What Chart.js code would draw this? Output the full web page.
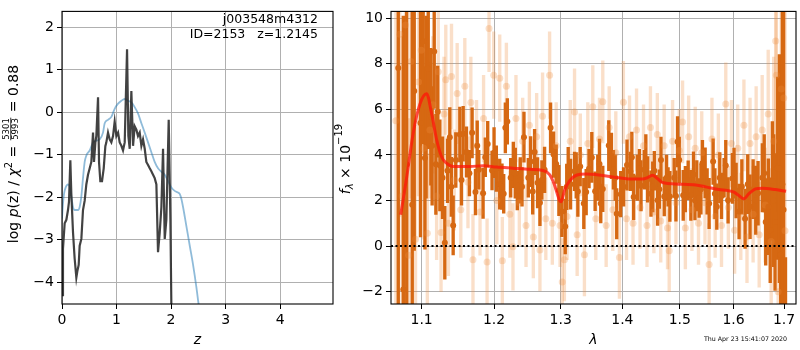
<!DOCTYPE html>
<html><head><meta charset="utf-8">
<script src="https://cdn.jsdelivr.net/npm/chart.js@4.4.1/dist/chart.umd.min.js"></script>
<style>
html,body{margin:0;padding:0;background:#fff;}
#wrap{position:relative;width:800px;height:350px;overflow:hidden;background:#fff;}
canvas{position:absolute;top:0;}
#c1{left:0;}
#c2{left:330px;}
</style></head><body>
<div id="wrap"><canvas id="c1" width="345" height="350"></canvas><canvas id="c2" width="470" height="350"></canvas></div>
<script>
// ---------- Left panel: p(z) ----------
const leftXTicks = [0, 1, 2, 3, 4];
const leftYTicks = [-4, -3, -2, -1, 0, 1, 2];
const pzZ = [0,0.018,0.049,0.080,0.110,0.128,0.153,0.171,0.202,0.232,
  0.263,0.281,0.306,0.324,0.355,0.385,0.416,0.446,0.477,0.508,
  0.538,0.569,0.587,0.612,0.630,0.661,0.679,0.703,0.734,0.765,
  0.795,0.813,0.844,0.875,0.905,0.936,0.966,0.997,1.028,1.058,
  1.089,1.119,1.150,1.168,1.193,1.217,1.242,1.272,1.303,1.333,
  1.364,1.394,1.425,1.456,1.486,1.517,1.547,1.578,1.609,1.639,
  1.670,1.700,1.731,1.761,1.792,1.823,1.853,1.884,1.914,1.957,
  1.988,2.006,2.030];
const pzLog = [-4.3,-3.21,-2.61,-2.53,-2.30,-2.11,-1.13,-1.92,-2.83,-3.44,
  -3.89,-3.74,-3.59,-3.14,-2.98,-2.30,-2.08,-1.70,-1.47,-1.32,
  -1.17,-0.48,-1.17,-0.71,-0.56,0.35,-1.17,-1.62,-1.62,-1.32,
  -0.80,-0.71,-0.48,-0.64,-0.71,-0.56,-0.22,-0.56,-0.48,-0.71,
  -0.79,-0.90,-0.71,0.20,1.48,-0.56,-0.86,0.50,-0.79,-0.33,
  -0.41,-0.56,-0.48,-0.79,-0.64,-0.86,-1.17,-1.24,-1.32,-1.39,
  -1.47,-1.55,-1.70,-3.29,-2.83,-2.23,-0.86,-2.98,-2.53,-0.18,
  -2.53,-4.58,-9];
const chiZ = [0,0.018,0.037,0.067,0.110,0.141,0.171,0.202,0.232,0.294,
  0.324,0.355,0.385,0.416,0.446,0.508,0.569,0.630,0.691,0.752,
  0.783,0.844,0.905,0.966,1.028,1.089,1.150,1.211,1.272,1.333,
  1.394,1.456,1.517,1.578,1.639,1.700,1.761,1.823,1.884,1.945,
  2.006,2.067,2.128,2.159,2.190,2.220,2.281,2.343,2.404,2.465,
  2.495,2.560];
const chiLog = [-2.5,-2.15,-1.92,-1.77,-1.70,-1.75,-1.98,-2.23,-2.30,-2.30,
  -2.23,-1.98,-1.55,-1.17,-1.02,-0.90,-0.71,-0.67,-0.64,-0.48,
  -0.26,-0.18,-0.11,0.08,0.20,0.27,0.31,0.27,0.23,0.12,
  -0.03,-0.26,-0.48,-0.71,-0.94,-1.17,-1.32,-1.40,-1.47,-1.62,
  -1.77,-1.85,-1.89,-1.92,-2.04,-2.23,-2.68,-3.14,-3.59,-4.12,
  -4.42,-5.0];
const infoLines = ['j003548m4312', 'ID=2153   z=1.2145'];

// ---------- Right panel: spectrum ----------
const rightXTicks = [1.1, 1.2, 1.3, 1.4, 1.5, 1.6, 1.7];
const rightYTicks = [-2, 0, 2, 4, 6, 8, 10];
const darkLam = [1.0696,1.0761,1.0805,1.0877,1.0903,1.0985,1.1021,1.1044,1.1060,1.1088,
  1.1123,1.1140,1.1168,1.1190,1.1215,1.1244,1.1280,1.1311,1.1348,1.1379,
  1.1400,1.1425,1.1461,1.1517,1.1540,1.1563,1.1609,1.1650,1.1688,1.1735,
  1.1760,1.1782,1.1843,1.1875,1.1909,1.1971,1.2000,1.2033,1.2082,1.2115,
  1.2140,1.2164,1.2193,1.2242,1.2281,1.2310,1.2340,1.2384,1.2410,1.2439,
  1.2504,1.2539,1.2570,1.2599,1.2644,1.2680,1.2710,1.2751,1.2843,1.2889,
  1.2930,1.2972,1.3019,1.3071,1.3095,1.3118,1.3155,1.3218,1.3245,1.3271,
  1.3308,1.3366,1.3404,1.3450,1.3495,1.3549,1.3592,1.3620,1.3641,1.3674,
  1.3773,1.3817,1.3850,1.3880,1.3905,1.3972,1.4020,1.4078,1.4135,1.4160,
  1.4191,1.4254,1.4290,1.4317,1.4374,1.4400,1.4431,1.4489,1.4520,1.4547,
  1.4605,1.4635,1.4664,1.4722,1.4763,1.4790,1.4822,1.4899,1.4930,1.4959,
  1.4989,1.5061,1.5100,1.5151,1.5200,1.5248,1.5275,1.5309,1.5352,1.5385,
  1.5413,1.5463,1.5500,1.5537,1.5612,1.5645,1.5681,1.5737,1.5770,1.5819,
  1.5851,1.5895,1.5978,1.6010,1.6049,1.6106,1.6160,1.6223,1.6275,1.6320,
  1.6380,1.6432,1.6478,1.6563,1.6600,1.6630,1.6683,1.6720,1.6763,1.6790,
  1.6817,1.6871,1.6905,1.6932,1.6966,1.6990,1.7030];
const darkFlux = [7.82,-1.90,3.58,1.82,6.81,5.4,8.99,3.87,6.1,7.78,
  5.68,4.4,8.54,3.59,5.9,3.54,3.0,0.15,3.31,4.78,
  2.6,0.91,3.78,4.90,2.9,4.93,4.13,3.2,4.97,2.37,
  4.4,3.35,2.32,3.9,4.48,3.32,4.1,3.40,2.72,2.61,
  2.3,5.19,5.47,3.00,3.56,3.2,2.44,2.89,2.6,4.78,
  3.00,3.71,2.4,4.13,2.78,1.90,2.9,3.35,5.19,4.02,
  3.6,2.44,1.52,0.86,2.6,3.48,2.72,3.28,3.1,2.40,
  3.49,1.87,2.37,3.4,3.89,2.41,3.00,3.6,1.87,2.51,
  4.41,3.96,3.35,3.0,1.42,2.28,2.6,3.56,3.28,3.9,
  2.16,3.00,3.4,2.65,3.35,3.8,2.93,2.30,2.6,3.31,
  2.01,2.5,3.78,2.18,3.00,2.6,2.18,3.00,2.2,4.58,
  3.78,2.23,2.5,2.89,2.23,3.14,2.0,2.65,2.11,2.5,
  3.64,3.21,2.4,1.87,3.71,2.3,1.73,3.00,2.2,3.00,
  3.54,2.01,2.97,3.2,2.44,1.52,2.6,1.20,2.72,1.73,
  2.5,2.01,2.32,3.00,3.2,1.06,1.73,0.7,2.86,2.0,
  1.06,3.42,3.4,-0.38,2.72,1.6,-4.5];
const darkErr = [12,12,10,9,7,5,4.5,4,4,3.5,
  3,2.6,2.5,2.2,2,2,1.8,1.6,1.4,1.3,
  1.3,1.3,1.2,1.2,1.1,1.2,1.1,1.0,1.1,1.0,
  1.1,0.85,1.1,0.85,1.0,0.85,1.1,1.0,1.1,1.0,
  0.85,1.1,1.0,0.85,1.0,1.1,0.85,1.0,0.85,1.1,
  0.85,1.1,1.0,1.0,1.1,1.0,0.85,1.0,1.1,1.0,
  0.85,1.1,1.1,1.2,1.0,0.85,1.1,0.85,1.0,1.1,
  0.85,1.1,1.0,0.85,1.1,0.85,1.0,1.1,0.85,1.0,
  1.1,1.0,0.85,1.0,1.1,1.0,0.85,1.1,0.85,1.1,
  1.0,1.0,0.85,1.1,0.85,1.1,1.0,1.0,1.1,0.85,
  1.1,0.85,1.0,0.85,1.0,0.85,1.1,0.85,1.1,1.1,
  1.0,1.1,1.0,0.85,1.1,1.0,0.85,1.1,0.85,1.1,
  1.0,1.1,1.0,1.1,1.0,1.1,1.0,1.1,1.0,0.85,
  1.1,1.0,1.1,1.1,1.2,1.2,1.2,1.3,1.3,1.4,
  1.3,1.5,1.4,1.5,1.7,1.9,2.1,2.3,2.6,2.9,
  3.0,4,5,7,10,12,4];
const lightLam = [1.0665,1.0715,1.0745,1.0790,1.0830,1.0860,1.0920,1.0960,1.0995,1.1030,
  1.1076,1.1110,1.1150,1.1200,1.1222,1.1260,1.1300,1.1324,1.1360,1.1402,
  1.1440,1.1480,1.1530,1.1586,1.1630,1.1670,1.1700,1.1750,1.1800,1.1850,
  1.1900,1.1928,1.1995,1.2040,1.2082,1.2120,1.2179,1.2230,1.2276,1.2320,
  1.2370,1.2420,1.2470,1.2520,1.2580,1.2630,1.2680,1.2720,1.2770,1.2828,
  1.2870,1.2930,1.2990,1.3024,1.3058,1.3100,1.3150,1.3218,1.3260,1.3310,
  1.3376,1.3430,1.3511,1.3560,1.3620,1.3674,1.3730,1.3780,1.3840,1.3890,
  1.3950,1.4017,1.4070,1.4120,1.4180,1.4240,1.4300,1.4360,1.4420,1.4480,
  1.4540,1.4600,1.4660,1.4720,1.4780,1.4810,1.4870,1.4930,1.4990,1.5049,
  1.5100,1.5160,1.5220,1.5280,1.5340,1.5400,1.5460,1.5537,1.5590,1.5650,
  1.5710,1.5770,1.5851,1.5900,1.5960,1.6020,1.6080,1.6140,1.6200,1.6260,
  1.6320,1.6380,1.6440,1.6500,1.6560,1.6620,1.6680,1.6740,1.6790,1.6830,
  1.6844,1.6880,1.6943,1.6994,1.7020];
const lightFlux = [5.5,9.3,2.2,9.7,-0.4,8.1,0.3,7.2,8.6,4.3,
  0.56,5.1,6.2,2.2,7.65,0.6,5.8,7.3,1.0,7.44,
  2.9,6.7,1.6,7.02,2.8,6.3,-0.6,4.4,1.5,5.6,
  -0.7,9.55,7.5,2.0,7.37,-0.64,7.01,1.4,-0.03,5.6,
  1.9,4.6,0.9,5.3,0.4,4.8,-0.17,5.7,1.2,7.5,
  1.0,4.4,0.9,-1.57,-0.6,1.3,4.6,5.88,0.5,4.0,
  -0.38,4.5,6.12,1.2,4.7,6.33,0.9,5.2,1.6,4.1,
  -0.5,6.31,1.2,4.8,1.0,5.1,1.7,4.4,0.9,5.2,
  1.5,4.9,1.1,4.4,0.8,-0.2,4.6,1.9,4.2,5.45,
  0.8,4.8,1.6,4.3,1.0,4.1,1.9,-0.81,4.7,1.3,
  4.0,0.9,6.24,1.7,4.5,0.7,4.3,1.3,5.3,0.4,
  4.5,1.4,4.8,0.5,5.1,1.8,5.8,0.2,4.6,9.0,
  7.5,-2.0,6.9,6.5,0.67];
const lightErr = [9,8,7,7,6,6,5,5,4.5,4,
  3.5,3,3,2.8,2.7,2.6,2.5,2.4,2.3,2.3,
  2.2,2.2,2.1,2.1,2.0,2.0,2.0,2.0,1.9,1.9,
  1.9,1.9,1.9,1.9,1.9,1.9,1.9,1.9,1.9,1.9,
  1.9,1.9,1.8,1.9,1.8,1.9,1.8,1.9,1.8,1.9,
  1.8,1.9,1.8,1.9,1.8,1.9,1.8,1.9,1.8,1.8,
  1.8,1.8,1.8,1.8,1.8,1.8,1.8,1.8,1.8,1.8,
  1.8,1.8,1.8,1.8,1.8,1.8,1.8,1.8,1.8,1.8,
  1.8,1.8,1.8,1.8,1.8,1.8,1.8,1.8,1.8,1.8,
  1.8,1.8,1.8,1.8,1.8,1.8,1.8,1.8,1.8,1.8,
  1.8,1.8,1.8,1.8,1.9,1.9,1.9,1.9,2.0,2.0,
  2.0,2.1,2.2,2.3,2.4,2.5,2.8,3.2,3.7,5,
  6,7,9,10,10];
const modelLam = [1.0727,1.0804,1.0890,1.0978,1.1066,1.1133,1.1199,1.1267,1.1334,1.1424,
  1.1655,1.1843,1.2034,1.2276,1.2524,1.2725,1.2828,1.2899,1.2982,1.3008,
  1.3060,1.3139,1.3245,1.3405,1.3674,1.3946,1.4170,1.4341,1.4427,1.4514,
  1.4601,1.4689,1.4986,1.5289,1.5473,1.5722,1.5879,1.6007,1.6103,1.6200,
  1.6297,1.6429,1.6559,1.6827,1.7042];
const modelFlux = [1.38,3.0,4.97,6.24,6.69,5.82,4.69,3.92,3.64,3.49,
  3.49,3.53,3.47,3.42,3.37,3.32,3.14,2.72,2.01,1.95,
  2.44,2.86,3.11,3.17,3.10,3.0,2.94,2.94,3.0,3.11,
  2.97,2.79,2.72,2.68,2.60,2.48,2.44,2.37,2.22,2.08,
  2.30,2.51,2.54,2.48,2.41];
const zeroLine = [0, 0];
const stamp = 'Thu Apr 23 15:41:07 2020';

// ---------- helpers ----------
Chart.defaults.font.family = "'DejaVu Sans'";
Chart.defaults.font.size = 14;
Chart.defaults.color = '#000';
const FONT = "'DejaVu Sans'";
const DARK = 'rgb(214,104,18)';
const LIGHT = 'rgba(238,140,60,0.28)';

function fixedTicks(vals){ return function(scale){ scale.ticks = vals.map(v => ({value: v})); }; }
function fmtNum(v){ return v < 0 ? '\u2212' + Math.abs(v) : String(v); }
function xy(xs, ys){ return xs.map((x, i) => ({x: x, y: ys[i]})); }

function drawRichV(ctx, xBase, cy, segs){
  let W = 0;
  segs.forEach(s => {
    ctx.font = s.font;
    s.w = s.frac ? Math.max(ctx.measureText(s.frac[0]).width, ctx.measureText(s.frac[1]).width) + 3
                 : ctx.measureText(s.t).width;
    W += s.w;
  });
  ctx.save();
  ctx.translate(xBase, cy);
  ctx.rotate(-Math.PI / 2);
  ctx.fillStyle = '#000';
  ctx.textBaseline = 'alphabetic';
  let u = -W / 2;
  segs.forEach(s => {
    ctx.font = s.font;
    if (s.frac) {
      ctx.textAlign = 'center';
      ctx.fillText(s.frac[0], u + s.w / 2, s.num);
      ctx.fillText(s.frac[1], u + s.w / 2, s.den);
      ctx.fillRect(u + 1, s.bar - 0.4, s.w - 2, 0.8);
    } else {
      ctx.textAlign = 'left';
      ctx.fillText(s.t, u, s.dy || 0);
    }
    u += s.w;
  });
  ctx.restore();
}

function frame(ctx, a){
  ctx.save();
  ctx.strokeStyle = '#000';
  ctx.lineWidth = 1.1;
  ctx.strokeRect(a.left, a.top, a.right - a.left, a.bottom - a.top);
  ctx.restore();
}

const leftDecor = {
  id: 'leftDecor',
  afterDraw(chart){
    const ctx = chart.ctx, a = chart.chartArea;
    frame(ctx, a);
    ctx.save();
    ctx.fillStyle = '#000';
    ctx.font = '12.5px ' + FONT;
    ctx.textAlign = 'right';
    ctx.textBaseline = 'middle';
    ctx.fillText(infoLines[0], 318, 20);
    ctx.fillText(infoLines[1], 318, 34.5);
    ctx.font = 'italic 14px ' + FONT;
    ctx.textAlign = 'center';
    ctx.fillText('z', (a.left + a.right) / 2, 340);
    ctx.restore();
    const N = '14px ' + FONT, I = 'italic 14px ' + FONT;
    drawRichV(ctx, 17.5, 154, [
      {t: 'log ', font: N}, {t: 'p', font: I}, {t: '(z) / ', font: N}, {t: '\u03c7', font: I},
      {t: '2', font: '10px ' + FONT, dy: -6}, {t: ' = ', font: N},
      {frac: ['5301', '5993'], font: '8.5px ' + FONT, num: -8.2, den: 0.8, bar: -6.7},
      {t: ' = 0.88', font: N}
    ]);
  }
};

const rightDecor = {
  id: 'rightDecor',
  afterDraw(chart){
    const ctx = chart.ctx, a = chart.chartArea;
    frame(ctx, a);
    ctx.save();
    ctx.fillStyle = '#000';
    ctx.font = 'italic 14px ' + FONT;
    ctx.textAlign = 'center';
    ctx.textBaseline = 'middle';
    ctx.fillText('\u03bb', (a.left + a.right) / 2, 340);
    ctx.font = '6.3px ' + FONT;
    ctx.textAlign = 'right';
    ctx.fillText(stamp, 457, 339.5);
    ctx.restore();
    const N = '14px ' + FONT, I = 'italic 14px ' + FONT;
    drawRichV(ctx, 20, 159, [
      {t: 'f', font: I}, {t: '\u03bb', font: 'italic 10px ' + FONT, dy: 3},
      {t: ' \u00d7 10', font: N}, {t: '\u221219', font: '10px ' + FONT, dy: -8}
    ]);
  }
};

const axisCommon = (ticksArr, fmt) => ({
  offset: false,
  afterBuildTicks: fixedTicks(ticksArr),
  ticks: {callback: fmt, maxRotation: 0, autoSkip: false, padding: 3, color: '#000', font: {size: 14, family: FONT}},
  grid: {color: '#b0b0b0', lineWidth: 1, tickLength: 5, tickColor: '#000', offset: false},
  border: {display: false}
});

// ---------- left chart ----------
new Chart(document.getElementById('c1'), {
  type: 'scatter',
  data: {datasets: [
    {type: 'line', data: xy(pzZ, pzLog), borderColor: 'rgba(45,45,45,0.9)', borderWidth: 2.2,
     pointRadius: 0, tension: 0, order: 0},
    {type: 'line', data: xy(chiZ, chiLog), borderColor: 'rgba(31,119,180,0.5)', borderWidth: 1.8,
     pointRadius: 0, cubicInterpolationMode: 'monotone', order: 1}
  ]},
  options: {
    responsive: false, animation: false, devicePixelRatio: 1,
    layout: {padding: {left: 0, top: 1, right: 12, bottom: 0}},
    plugins: {legend: {display: false}, tooltip: {enabled: false}},
    scales: {
      x: Object.assign(axisCommon(leftXTicks, fmtNum), {type: 'linear', min: 0, max: 4.97,
          afterFit: s => { s.height = 46; }}),
      y: Object.assign(axisCommon(leftYTicks, fmtNum), {type: 'linear', min: -4.51, max: 2.37,
          afterFit: s => { s.width = 62; }})
    }
  },
  plugins: [leftDecor]
});

// ---------- right chart ----------
const barData = [], barColors = [];
lightLam.forEach((l, i) => { barData.push({x: l, y: [lightFlux[i] - lightErr[i], lightFlux[i] + lightErr[i]]}); barColors.push(LIGHT); });
darkLam.forEach((l, i) => { barData.push({x: l, y: [darkFlux[i] - darkErr[i], darkFlux[i] + darkErr[i]]}); barColors.push(DARK); });

new Chart(document.getElementById('c2'), {
  type: 'scatter',
  data: {datasets: [
    {type: 'bar', data: barData, backgroundColor: barColors, barThickness: 2.7, borderWidth: 0, clip: 0, order: 5},
    {type: 'scatter', data: xy(lightLam, lightFlux), pointRadius: 3.5, pointBackgroundColor: LIGHT,
     pointBorderWidth: 0, order: 4},
    {type: 'scatter', data: xy(darkLam, darkFlux), pointRadius: 3, pointBackgroundColor: DARK,
     pointBorderWidth: 0, order: 3},
    {type: 'line', data: xy(modelLam, modelFlux), borderColor: 'rgba(255,20,10,0.75)', borderWidth: 3,
     pointRadius: 0, cubicInterpolationMode: 'monotone', order: 2},
    {type: 'line', data: xy([1.0603, 1.7246], zeroLine), borderColor: '#000', borderWidth: 2,
     borderDash: [2, 2.5], pointRadius: 0, order: 1}
  ]},
  options: {
    responsive: false, animation: false, devicePixelRatio: 1,
    layout: {padding: {left: 0, top: 1, right: 3, bottom: 0}},
    plugins: {legend: {display: false}, tooltip: {enabled: false}},
    scales: {
      x: Object.assign(axisCommon(rightXTicks, v => Number(v).toFixed(1)), {type: 'logarithmic', min: 1.0603, max: 1.7246,
          afterFit: s => { s.height = 46; }}),
      y: Object.assign(axisCommon(rightYTicks, fmtNum), {type: 'linear', min: -2.54, max: 10.3,
          afterFit: s => { s.width = 61; }})
    }
  },
  plugins: [rightDecor]
});
</script>
</body></html>
